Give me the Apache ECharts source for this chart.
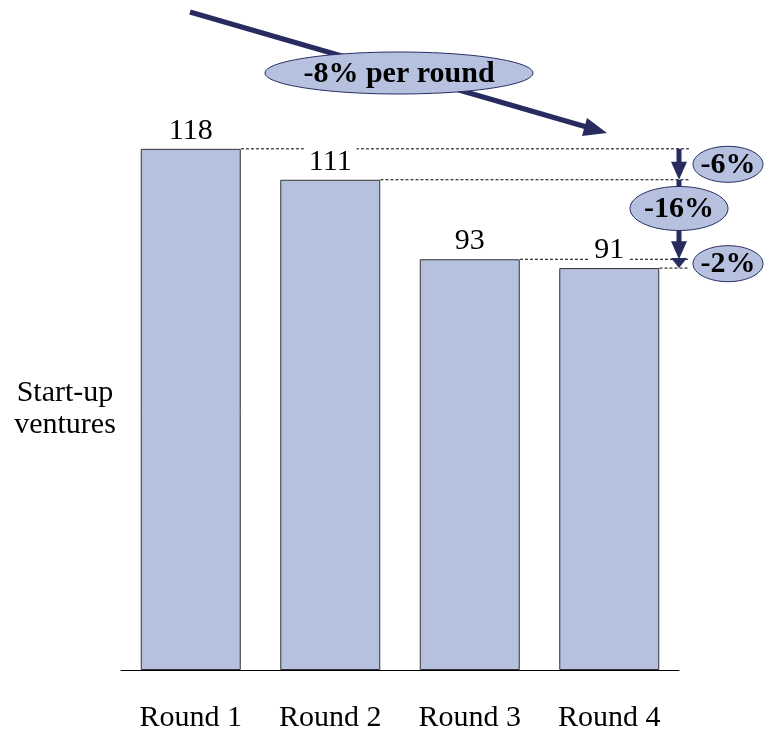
<!DOCTYPE html>
<html>
<head>
<meta charset="utf-8">
<script src="https://cdn.jsdelivr.net/npm/echarts@6/dist/echarts.min.js"></script>
<style>
  html, body { margin: 0; padding: 0; background: #fff; }
  #chart { width: 768px; height: 733px; }
</style>
</head>
<body>
<div id="chart"></div>
<script>
// data
const rounds = ['Round 1', 'Round 2', 'Round 3', 'Round 4']
const ventures = [118, 111, 93, 91]
const stepLabels = ['-6%', '-16%', '-2%']
const trendLabel = '-8% per round'

const FONT = '"Liberation Serif", "Times New Roman", serif'
const BAR = '#B6C1DF'
const NAVY = '#272B5F'

const chart = echarts.init(document.getElementById('chart'))

// dashed level lines from each bar top to the right edge
const levelData = ventures.map((v, i) => [i, v])
// vertical step arrows between successive levels
const stepData = stepLabels.map((s, i) => [i, ventures[i], ventures[i + 1]])

function renderLevel(params, api) {
  const i = api.value(0)
  const p = api.coord([i, api.value(1)])
  const half = api.size([1, 0])[0] * 0.36
  const cs = params.coordSys
  return {
    type: 'line',
    shape: { x1: p[0] + half, y1: p[1], x2: cs.x + cs.width + 10, y2: p[1] },
    style: { stroke: '#000', lineWidth: 1, lineDash: [3, 2] },
    silent: true
  }
}

function renderStep(params, api) {
  const i = api.value(0)
  const cs = params.coordSys
  const x = cs.x + cs.width
  const y0 = api.coord([0, api.value(1)])[1]
  const y1 = api.coord([0, api.value(2)])[1]
  const head = Math.min(18, Math.max(10, (y1 - y0)))
  const mid = (y0 + y1) / 2
  const big = i === 1
  const ex = big ? x : x + 49
  const ey = big ? mid - 11 : mid
  return {
    type: 'group',
    children: [
      {
        type: 'line',
        shape: { x1: x, y1: y0, x2: x, y2: y1 - head + 2 },
        style: { stroke: NAVY, lineWidth: 5 }
      },
      {
        type: 'polygon',
        shape: { points: [[x - 8, y1 - head], [x + 8, y1 - head], [x, y1]] },
        style: { fill: NAVY }
      },
      {
        type: 'ellipse',
        shape: { cx: ex, cy: ey, rx: big ? 49 : 35, ry: big ? 22 : 18 },
        style: { fill: BAR, stroke: NAVY, lineWidth: 1 },
        z2: 10
      },
      {
        type: 'text',
        x: ex, y: ey + 1,
        style: {
          text: stepLabels[i], fill: '#000', font: 'bold 30px ' + FONT,
          align: 'center', verticalAlign: 'middle'
        },
        z2: 11
      }
    ]
  }
}

chart.setOption({
  animation: false,
  grid: { left: 121, width: 558, top: 140, bottom: 61 },
  xAxis: {
    type: 'category',
    data: rounds,
    axisTick: { show: false },
    axisLine: { lineStyle: { color: '#000', width: 1 } },
    axisLabel: { color: '#000', fontSize: 30, fontFamily: FONT, margin: 33 }
  },
  yAxis: {
    type: 'value',
    min: 0,
    max: 120,
    show: false
  },
  graphic: [
    {
      type: 'text',
      x: 65, y: 377,
      style: {
        text: 'Start-up\nventures', fill: '#000', font: '30px ' + FONT,
        align: 'center', lineHeight: 32
      }
    },
    {
      type: 'line',
      shape: { x1: 190, y1: 12, x2: 590, y2: 128 },
      style: { stroke: NAVY, lineWidth: 5 }
    },
    {
      type: 'polygon',
      shape: { points: [[587, 118], [607, 133], [582, 136]] },
      style: { fill: NAVY }
    },
    {
      type: 'ellipse',
      shape: { cx: 399, cy: 73, rx: 134, ry: 21 },
      style: { fill: BAR, stroke: NAVY, lineWidth: 1 }
    },
    {
      type: 'text',
      x: 399, y: 74,
      style: {
        text: trendLabel, fill: '#000', font: 'bold 30px ' + FONT,
        align: 'center', verticalAlign: 'middle'
      }
    }
  ],
  series: [
    {
      type: 'custom',
      data: levelData,
      renderItem: renderLevel,
      z: 1,
      silent: true
    },
    {
      type: 'bar',
      data: ventures,
      barWidth: 100,
      z: 2,
      itemStyle: { color: BAR, borderColor: '#333', borderWidth: 1 },
      label: {
        show: true,
        position: 'top',
        distance: 3,
        color: '#000',
        fontSize: 30,
        fontFamily: FONT,
        backgroundColor: '#fff',
        padding: [2, 5, 0, 5]
      }
    },
    {
      type: 'custom',
      data: stepData,
      renderItem: renderStep,
      z: 3,
      silent: true
    }
  ]
})
</script>
</body>
</html>
